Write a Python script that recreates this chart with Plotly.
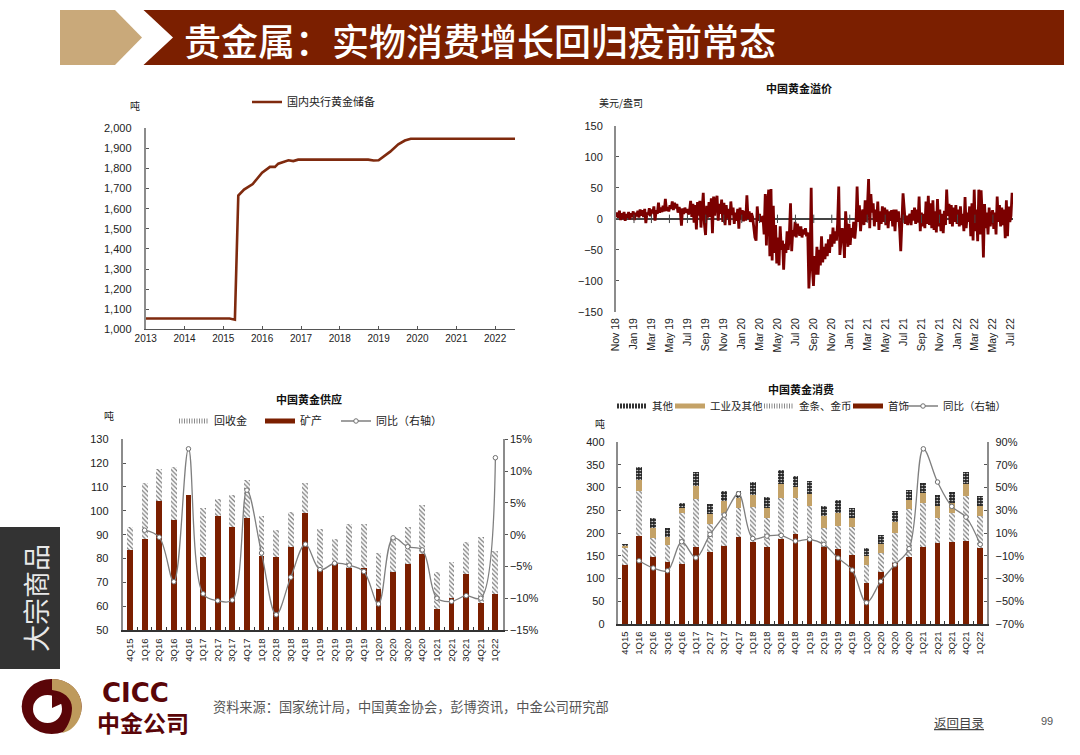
# china gold slide: reserves, premium, supply, consumption

import pandas as pd
import plotly.graph_objects as go

RED = "#7B1F00"
TAN = "#C4A267"
CJK = "Noto Sans CJK SC"
NUM = "Liberation Sans"

# central bank gold reserves, tonnes
reserve_dates = ["2013-01-01", "2015-03-01", "2015-04-20", "2015-05-22", "2015-07-15", "2015-10-05",
                 "2016-01-01", "2016-03-15", "2016-05-01", "2016-06-01", "2016-09-05", "2016-10-20",
                 "2016-12-05", "2018-09-25", "2018-11-15", "2019-01-01", "2019-04-20", "2019-07-05",
                 "2019-09-05", "2019-10-30", "2022-07-07"]
reserve_values = [1054, 1054, 1048, 1665, 1695, 1723, 1779, 1808, 1808, 1824, 1841, 1837,
                  1844, 1844, 1840, 1841, 1884, 1920, 1939, 1948, 1948]

premium_2018 = [3, 10, 1, 13, -2, 9, 0, 11, -3, 8, 2, 11, -1, 9, 3, 12]
premium_2019 = [-2, 10, 4, 13, 2, 15, 5, 14, 3, 16, -7, 10, 6, 17, 4, 15,
                9, 20, -3, 14, 8, 26, 10, 18, 11, 21, 12, 32, 13, 19, 12, 22,
                16, 28, 14, 26, 17, 24, 10, 19, 12, -11, 17, 8, 18, 10, 16, 7,
                12, 29, 3, 24, -6, 22, -17, 27, 5, 29, -14, 25, 42, -8, -26, 21,
                2, 27, 3, 33, -23, 36, 5, 30, 37, -3, 24, 8, 31, -5, 26, -10,
                22, 1, 16, -10, 28, 6, 18, -8, 10, -3, 16, -16, 18, 0, 14, -4]
premium_2020 = [13, -3, 38, 0, 12, -5, 9, 3, -12, -30, -35, 20, -3, 8, -5, 2,
                3, -25, 40, -43, 25, 47, -60, 48, -67, 21, -55, -10, -72, -30, -75, -12,
                -50, -35, -82, -40, -55, -20, -50, -25, 25, -52, -18, -28, -5, -30, -8, -20,
                -27, -12, -30, -17, -25, -15, -28, -22, -112, -70, 50, -80, -108, -60, -90, -45,
                -90, -50, -75, -28, -70, -45, -65, -40, -60, -33, -55, -25, -45, -14, -40, -20,
                -35, -8, 52, -58, -30, -15, -25, -63, 12, -20, -45, -8, -42, -15, -30, -5]
premium_2021 = [-32, -10, 52, -5, 22, -20, 8, 15, -10, 30, -5, 20, 64, -15, 40, 10,
                25, -12, 15, -5, 28, -18, 12, -8, 20, -5, 18, -10, 15, -15, 12, -3,
                14, -12, 15, -20, 15, -5, 12, -15, -52, -5, 41, 17, -8, 5, -10, 3,
                8, -10, 14, -3, 18, -8, 15, -6, 36, -20, 10, -12, 8, -15, 28, -8,
                37, -10, 25, -15, 30, -18, 12, -22, 32, -12, 15, -20, 8, -23, 13, -10,
                47, 5, 24, -8, 22, -12, 18, -5, 22, -8, 15, -12, 20, -10, 8, -20]
premium_2022 = [35, -15, 10, -5, 20, -28, 25, -35, 47, -20, 15, -36, 47, -25, 46, 5,
                -62, 24, -15, 10, -25, 18, -12, 5, 14, -16, 10, -25, 36, -5, 22, -12,
                18, -10, 15, -31, 30, -28, 20, -5, 5, 42]
premium_values = premium_2018 + premium_2019 + premium_2020 + premium_2021 + premium_2022
premium_dates = pd.date_range("2018-11-01", "2022-07-05", periods=len(premium_values))
premium_ticks = ["2019-01-01", "2019-03-01", "2019-05-01", "2019-07-01", "2019-09-01", "2019-11-01", "2020-01-01",
                 "2020-03-01", "2020-05-01", "2020-07-01", "2020-09-01", "2020-11-01", "2021-01-01", "2021-03-01",
                 "2021-05-01", "2021-07-01", "2021-09-01", "2021-11-01", "2022-01-01", "2022-03-01", "2022-05-01"]

quarters = ["4Q15", "1Q16", "2Q16", "3Q16", "4Q16", "1Q17", "2Q17", "3Q17", "4Q17", "1Q18", "2Q18", "3Q18", "4Q18",
            "1Q19", "2Q19", "3Q19", "4Q19", "1Q20", "2Q20", "3Q20", "4Q20", "1Q21", "2Q21", "3Q21", "4Q21", "1Q22"]

# supply, tonnes
mine_output = [83.5, 88, 104, 96, 106.5, 80.5, 98, 93, 97, 81, 80.5, 85, 99,
               75.5, 78, 76, 76, 67, 74.5, 77.5, 82, 59, 63.5, 73.5, 61.5, 65]
recycled = [9.5, 23.5, 13.5, 22.5, 0, 20.5, 7, 13.5, 16, 17, 11.5, 14.5, 12.5,
            17, 10, 18.5, 18.5, 15.5, 14, 15.5, 20.5, 15.5, 15, 13.5, 27.5, 18]
supply_yoy = [None, 0.7, -0.4, -7.4, 13.5, -9.3, -10.4, -10.3, 7, -2.9, -12.6, -6.7, -1.5,
              -5.5, -4.5, -4.8, -5.8, -10.9, -0.5, -1.9, -2.4, -10, -10.5, -9.6, -10, 12.1]

# consumption, tonnes
jewelry = [130, 193, 147, 137, 132, 170, 158, 172, 192, 180, 170, 187, 197,
           185, 170, 164, 152, 91, 115, 135, 147, 170, 178, 180, 182, 168]
bar_coin = [38, 100, 42, 36, 113, 104, 62, 71, 64, 77, 63, 91, 81,
            74, 42, 52, 61, 39, 40, 65, 105, 95, 56, 65, 100, 70]
industrial = [5, 24, 21, 19, 10, 29, 21, 27, 22, 27, 23, 30, 23,
              27, 25, 29, 21, 19, 20, 24, 21, 22, 25, 22, 25, 22]
other_use = [2, 27, 22, 19, 10, 30, 22, 23, 15, 29, 24, 30, 24,
             29, 23, 27, 22, 19, 20, 25, 22, 24, 25, 23, 27, 22]
demand_yoy = [None, -14.4, -20.8, -23.2, 2.3, -11.8, 8.8, 25.8, 44.5, 5.2, 7.3, 7.9, 2.9,
              4.4, 0, -12, -22.6, -51.3, -32.6, -17.9, -3.8, 84, 54.8, 33.4, 24, 0]


def px(x):
    return x / 1080


def py(y):
    return 1 - y / 755


def leg(x, y, size=11):
    return dict(orientation="h", x=px(x), y=py(y), xanchor="left", yanchor="middle", itemwidth=30,
                bgcolor="rgba(0,0,0,0)", font=dict(family=CJK, size=size, color="#222222"))


fig = go.Figure()

# top left
fig.add_trace(go.Scatter(x=reserve_dates, y=reserve_values, mode="lines", name="国内央行黄金储备",
                         line=dict(color="#7F2A0E", width=2.6), xaxis="x", yaxis="y", legend="legend"))

# top right
fig.add_trace(go.Scatter(x=premium_dates, y=premium_values, mode="lines", showlegend=False,
                         line=dict(color="#7B0000", width=2.8), xaxis="x2", yaxis="y2"))
fig.add_trace(go.Scatter(x=premium_ticks, y=[0] * len(premium_ticks), mode="markers", showlegend=False,
                         marker=dict(symbol="line-ns", size=6, line=dict(color="#444444", width=1)),
                         xaxis="x2", yaxis="y2"))

# bottom left
hatch = dict(shape="\\", fgcolor="#7A7A7A", bgcolor="white", size=3.2, solidity=0.38)
fig.add_trace(go.Bar(x=quarters, y=mine_output, marker_color=RED, showlegend=False, xaxis="x3", yaxis="y3"))
fig.add_trace(go.Bar(x=quarters, y=recycled, marker=dict(color="white", pattern=hatch), showlegend=False,
                     xaxis="x3", yaxis="y3"))
fig.add_trace(go.Scatter(x=[None], y=[None], mode="lines", name="回收金", xaxis="x3", yaxis="y3", legend="legend2",
                         line=dict(color="#8A8A8A", width=5, dash="1px,1.5px")))
fig.add_trace(go.Scatter(x=[None], y=[None], mode="lines", name="矿产", xaxis="x3", yaxis="y3", legend="legend3",
                         line=dict(color=RED, width=5)))
fig.add_trace(go.Scatter(x=quarters, y=supply_yoy, mode="lines+markers", name="同比（右轴）", xaxis="x3", yaxis="y5",
                         legend="legend4", line=dict(color="#7F7F7F", width=1.3, shape="spline"),
                         marker=dict(color="white", size=4.5, line=dict(color="#6F6F6F", width=1))))

# bottom right
dots = dict(shape=".", fgcolor="white", bgcolor="#262626", size=3, solidity=0.2)
fig.add_trace(go.Bar(x=quarters, y=jewelry, marker_color=RED, showlegend=False, xaxis="x4", yaxis="y4"))
fig.add_trace(go.Bar(x=quarters, y=bar_coin, marker=dict(color="white", pattern=hatch), showlegend=False,
                     xaxis="x4", yaxis="y4"))
fig.add_trace(go.Bar(x=quarters, y=industrial, marker_color=TAN, showlegend=False, xaxis="x4", yaxis="y4"))
fig.add_trace(go.Bar(x=quarters, y=other_use, marker=dict(color="#262626", pattern=dots), showlegend=False,
                     xaxis="x4", yaxis="y4"))
fig.add_trace(go.Scatter(x=[None], y=[None], mode="lines", name="其他", xaxis="x4", yaxis="y4", legend="legend5",
                         line=dict(color="#333333", width=5, dash="2px,1px")))
fig.add_trace(go.Scatter(x=[None], y=[None], mode="lines", name="工业及其他", xaxis="x4", yaxis="y4", legend="legend6",
                         line=dict(color=TAN, width=5)))
fig.add_trace(go.Scatter(x=[None], y=[None], mode="lines", name="金条、金币", xaxis="x4", yaxis="y4", legend="legend7",
                         line=dict(color="#8A8A8A", width=5, dash="1px,1.5px")))
fig.add_trace(go.Scatter(x=[None], y=[None], mode="lines", name="首饰", xaxis="x4", yaxis="y4", legend="legend8",
                         line=dict(color=RED, width=5)))
fig.add_trace(go.Scatter(x=quarters, y=demand_yoy, mode="lines+markers", name="同比（右轴）", xaxis="x4", yaxis="y6",
                         legend="legend9", line=dict(color="#7F7F7F", width=1.3, shape="spline"),
                         marker=dict(color="white", size=4.5, line=dict(color="#6F6F6F", width=1))))

grey_axis = dict(showline=True, linecolor="#8C8C8C", linewidth=2, showgrid=False, zeroline=False, ticklen=3,
                 tickcolor="#555555", tickfont=dict(family=NUM, size=11, color="#222222"))
cat_x = dict(showline=True, linecolor="#333333", linewidth=1.5, showgrid=False, ticks="inside", ticklen=3,
             tickcolor="#333333", tickson="boundaries", tickangle=-90, type="category",
             tickfont=dict(family=NUM, size=9.5, color="#222222"),
             categoryorder="array", categoryarray=quarters, dtick=1, range=[-0.5, 25.5])

fig.update_layout(
    template="none",
    width=1080, height=755, autosize=False, margin=dict(l=0, r=0, t=0, b=0),
    paper_bgcolor="white", plot_bgcolor="white", barmode="stack", bargap=0.6,
    font=dict(family=CJK, size=11, color="#222222"),
    xaxis=dict(domain=[px(145.7), px(515)], anchor="y", type="date", range=["2013-01-01", "2022-07-07"], dtick="M12",
               tick0="2013-01-01", tickformat="%Y", showline=True, linecolor="#555555", linewidth=1.2, showgrid=False,
               ticks="inside", ticklen=3, tickcolor="#555555", tickfont=dict(family=NUM, size=10, color="#222222")),
    yaxis=dict(domain=[py(329.3), py(128.3)], anchor="x", range=[1000, 2000], dtick=100, tickformat=",d",
               ticks="inside", ticklabelstandoff=10, **grey_axis),
    xaxis2=dict(domain=[px(616), px(1013)], anchor="y2", type="date", range=["2018-11-01", "2022-07-08"], dtick="M2",
                tick0="2018-11-01", tickformat="%b %y", tickangle=-90, showgrid=False, showline=False, ticks="",
                ticklabelstandoff=3, tickfont=dict(family=NUM, size=10.5, color="#222222")),
    yaxis2=dict(domain=[py(312), py(125.7)], anchor="x2", range=[-150, 150], dtick=50, ticks="inside",
                ticklabelstandoff=9, **{**grey_axis, "zeroline": True, "zerolinecolor": "#444444", "zerolinewidth": 1.5}),
    xaxis3=dict(domain=[px(122.7), px(502.7)], anchor="y3", ticklabelstandoff=3, **cat_x),
    yaxis3=dict(domain=[py(630), py(439.3)], anchor="x3", range=[50, 130], dtick=10, ticks="inside",
                ticklabelstandoff=10, **grey_axis),
    yaxis5=dict(domain=[py(630), py(439.3)], anchor="x3", overlaying="y3", side="right", range=[-15, 15], dtick=5,
                ticksuffix="%", ticks="outside", **grey_axis),
    xaxis4=dict(domain=[px(617.7), px(987.3)], anchor="y4", ticklabelstandoff=2, **cat_x),
    yaxis4=dict(domain=[py(624), py(442)], anchor="x4", range=[0, 400], dtick=50, ticks="inside",
                ticklabelstandoff=9, **grey_axis),
    yaxis6=dict(domain=[py(624), py(442)], anchor="x4", overlaying="y4", side="right", range=[-70, 90], tick0=-70,
                dtick=20, ticksuffix="%", ticks="inside", ticklabelstandoff=4, **grey_axis),
    legend=leg(247, 102),
    legend2=leg(174, 421), legend3=leg(260, 421), legend4=leg(336, 421),
    legend5=leg(612, 406, 10.5), legend6=leg(670, 406, 10.5), legend7=leg(759, 406, 10.5),
    legend8=leg(848, 406, 10.5), legend9=leg(903, 406, 10.5),
)

# page furniture
shapes = [
    ("M{} L{} L{} L{} L{} Z", [(60, 10), (115, 10), (142, 37.5), (115, 65), (60, 65)], "#C9A97A"),
    ("M{} L{} L{} L{} L{} Z", [(143.5, 10), (1064, 10), (1064, 65), (143.5, 65), (173, 37.5)], RED),
]
for tmpl, pts, col in shapes:
    path = tmpl.format(*["%.5f,%.5f" % (px(a), py(b)) for a, b in pts])
    fig.add_shape(type="path", path=path, xref="paper", yref="paper", fillcolor=col, line_width=0, layer="below")
fig.add_shape(type="rect", xref="paper", yref="paper", x0=0, x1=px(60), y0=py(669), y1=py(527),
              fillcolor="#333333", line_width=0, layer="below")

# logo
LOGO = "#5A0508"
fig.add_shape(type="circle", xref="paper", yref="paper", x0=px(21.7), x1=px(81.7), y0=py(734), y1=py(679),
              fillcolor=LOGO, line_width=0)
tan_pts = [(52, 679), (70, 679), (81.7, 692), (81.7, 706.5), (81.7, 720), (73, 731), (62, 733),
           (69, 726), (72, 716), (72, 708), (72, 698), (63, 691), (52, 690)]
tan_path = "M%.5f,%.5f" % (px(tan_pts[0][0]), py(tan_pts[0][1]))
for i in range(1, len(tan_pts), 3):
    tan_path += " C" + " ".join("%.5f,%.5f" % (px(a), py(b)) for a, b in tan_pts[i:i + 3])
fig.add_shape(type="path", path=tan_path + " Z", xref="paper", yref="paper", fillcolor="#BE9A5C", line_width=0)
fig.add_shape(type="circle", xref="paper", yref="paper", x0=px(33), x1=px(62), y0=py(723), y1=py(695),
              fillcolor="white", line_width=0)
notch = "M%.5f,%.5f L%.5f,%.5f L%.5f,%.5f Z" % (px(52), py(693), px(52), py(708), px(63), py(703))
fig.add_shape(type="path", path=notch, xref="paper", yref="paper", fillcolor=LOGO, line_width=0)

texts = [
    ("贵金属：实物消费增长回归疫前常态", 182, 40, 37, "white", CJK, 500, "left", 0),
    ("中国黄金溢价", 799, 88, 11, "#111111", CJK, 700, "center", 0),
    ("中国黄金供应", 309, 399, 11, "#111111", CJK, 700, "center", 0),
    ("中国黄金消费", 801, 389, 11, "#111111", CJK, 700, "center", 0),
    ("吨", 135, 105, 10, "#222222", CJK, 400, "center", 0),
    ("美元/盎司", 621, 103, 10, "#222222", CJK, 400, "center", 0),
    ("吨", 109, 415, 10, "#222222", CJK, 400, "center", 0),
    ("吨", 600, 423, 10, "#222222", CJK, 400, "center", 0),
    ("大宗商品", 35, 598, 27, "#E8E8E8", CJK, 400, "center", -90),
    ("CICC", 135, 693, 26, LOGO, "DejaVu Sans", 700, "center", 0),
    ("中金公司", 143, 722, 23, LOGO, CJK, 700, "center", 0),
    ("资料来源：国家统计局，中国黄金协会，彭博资讯，中金公司研究部", 211, 706, 13.2, "#555555", CJK, 400, "left", 0),
    ("<u>返回目录</u>", 959, 722, 12.5, "#444444", CJK, 400, "center", 0),
    ("99", 1047, 721, 11, "#555555", NUM, 400, "center", 0),
]
for txt, x, y, size, col, fam, weight, anchor, angle in texts:
    fig.add_annotation(text=txt, x=px(x), y=py(y), xref="paper", yref="paper", showarrow=False, xanchor=anchor,
                       yanchor="middle", textangle=angle, font=dict(family=fam, size=size, color=col, weight=weight))

fig.write_html("out.html", config={"displayModeBar": False}, post_script="document.body.style.margin='0';")
